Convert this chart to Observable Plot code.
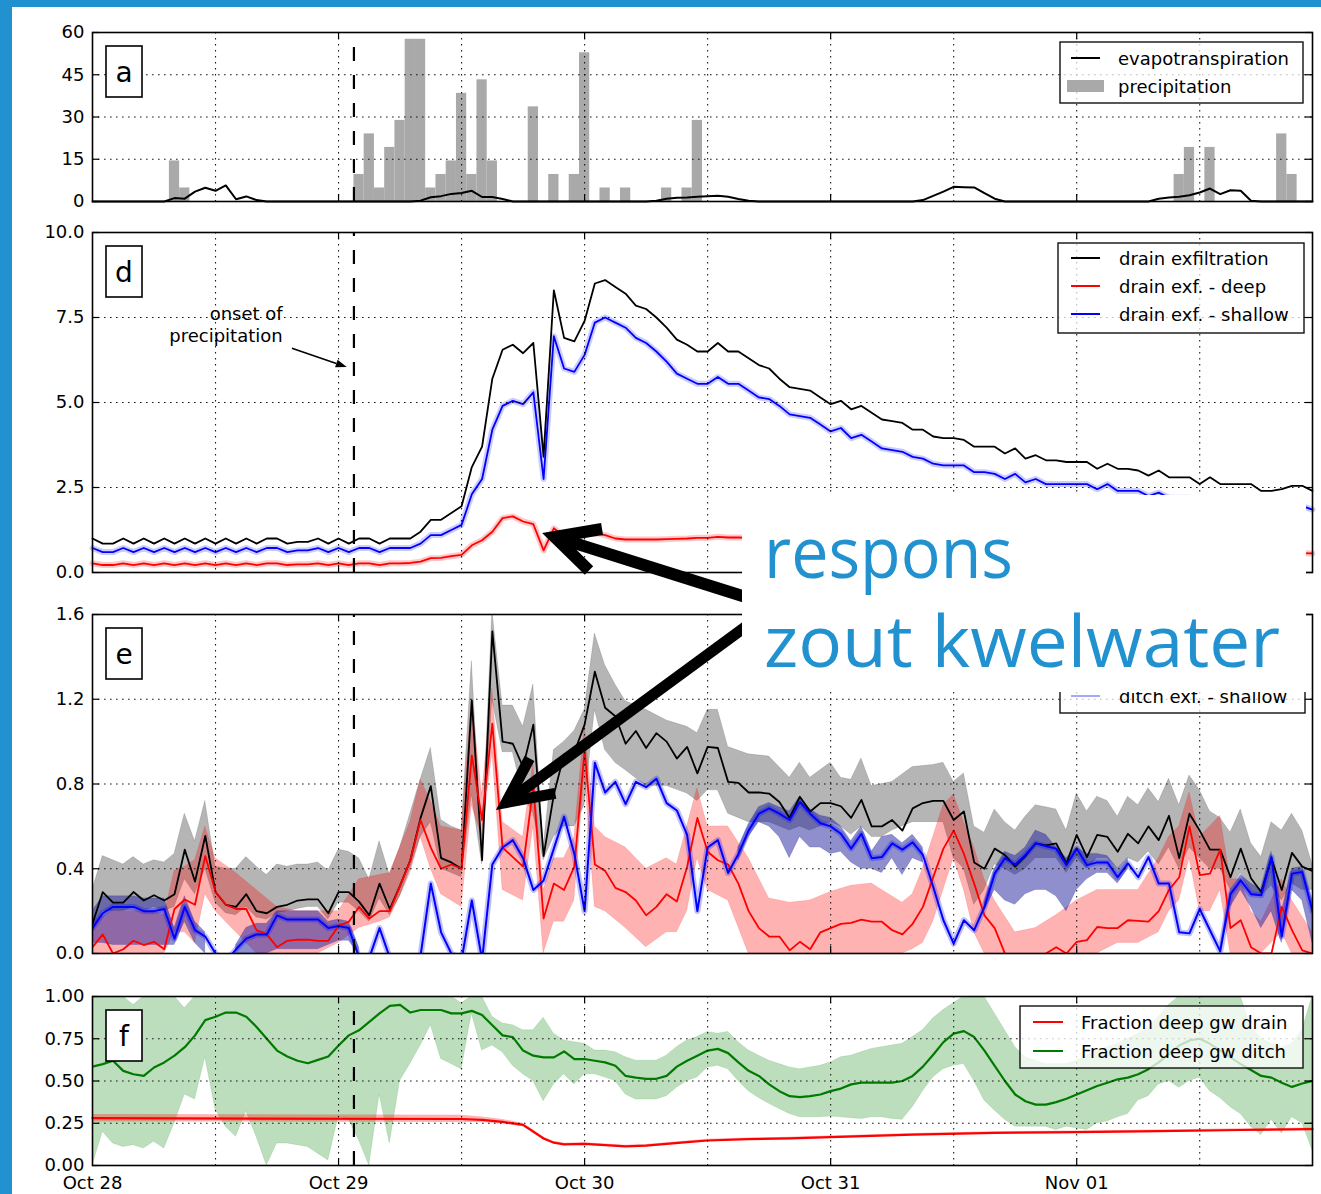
<!DOCTYPE html>
<html><head><meta charset="utf-8">
<script src="https://cdn.jsdelivr.net/npm/d3@7"></script>
<script src="https://cdn.jsdelivr.net/npm/@observablehq/plot@0.6"></script>
<style>
html,body{margin:0;padding:0;background:#fff;overflow:hidden;}
#wrap{position:relative;width:1321px;height:1194px;background:#fff;}
#wrap > svg{position:absolute;left:0;}
</style></head><body><div id="wrap"></div>
<script>
// ---------- x axis (hours since Oct 28 00:00) ----------
const dayHours = [0, 24, 48, 72, 96];
const dayLabels = ["Oct 28", "Oct 29", "Oct 30", "Oct 31", "Nov 01"];
const gridHours = [12, 24, 36, 48, 60, 72, 84, 96, 108];
const onsetHour = 25.5;

// ---------- panel a ----------
const aTicks = [0, 15, 30, 45, 60];
const precipHours = [8,9,26,27,28,29,30,31,32,33,34,35,36,37,38,39,43,45,47,48,50,52,56,58,59,106,107,109,116,117];
const precipVals  = [14.4,4.8,9.6,24,4.8,19.2,28.8,57.6,57.6,4.8,9.6,14.4,38.4,9.6,43.2,14.4,33.6,9.6,9.6,52.8,4.8,4.8,4.8,4.8,28.8,9.6,19.2,19.2,24,9.6];
const etVals = [
0,0,0,0,0,0,0,0,1.2,1.0,
3.5,4.9,3.8,5.7,0.8,1.8,0.5,0,0,0,
0,0,0,0,0,0,0,0,0,0,
0,0,0.3,1.5,1.9,2.7,3.0,3.8,1.6,1.6,
0.9,0,0,0,0,0,0,0,0,0,
0,0,0,0,0,0.3,1.0,1.3,1.4,1.7,
1.9,2.0,1.7,0.9,0.3,0,0,0,0,0,
0,0,0,0,0,0,0,0,0,0,
0,0.5,2.0,3.5,5.2,5.1,5.0,3.0,1.0,0,
0,0,0,0,0,0,0,0,0,0,
0,0,0,0,1.0,1.4,1.7,2.2,3.2,4.6,
2.6,4.0,3.8,0.3,0,0,0,0,0,0];

// ---------- panel d ----------
const dTicks = [0, 2.5, 5, 7.5, 10];
const dBlack = [
1.0,0.85,0.85,1.0,0.85,1.0,0.85,1.0,0.85,1.0,0.85,1.0,0.85,1.0,0.85,1.0,0.85,1.0,1.0,0.85,0.9,0.9,1.0,0.85,1.0,0.85,1.0,1.0,0.85,1.0,1.0,1.0,
1.2,1.55,1.55,1.75,1.95,3.1,3.7,5.7,6.55,6.7,6.45,6.75,3.4,8.3,6.9,6.8,7.4,8.5,8.6,8.4,8.2,7.85,7.75,7.5,7.2,6.85,6.7,6.5,
6.5,6.75,6.5,6.5,6.3,6.1,6.0,5.7,5.45,5.4,5.35,5.15,4.95,5.05,4.8,4.9,4.7,4.5,4.45,4.4,
4.2,4.2,4.0,3.95,3.95,3.9,3.7,3.7,3.7,3.5,3.65,3.35,3.45,3.3,3.3,3.25,3.25,3.25,3.05,3.2,
3.05,3.05,3.0,2.85,3.0,2.8,2.8,2.8,2.6,2.8,2.6,2.6,2.6,2.6,2.4,2.4,2.45,2.55,2.55,2.4];
const dBlue = [
0.72,0.6,0.6,0.72,0.6,0.72,0.6,0.72,0.6,0.72,0.6,0.72,0.6,0.72,0.6,0.72,0.6,0.72,0.72,0.6,0.65,0.65,0.72,0.6,0.72,0.6,0.72,0.72,0.6,0.72,0.72,0.72,
0.85,1.1,1.1,1.25,1.4,2.3,2.75,4.2,4.9,5.05,4.95,5.3,2.75,6.95,6.0,5.9,6.4,7.35,7.5,7.35,7.2,6.9,6.75,6.5,6.2,5.85,5.7,5.55,
5.55,5.75,5.55,5.55,5.35,5.15,5.1,4.9,4.65,4.6,4.55,4.35,4.15,4.25,3.95,4.05,3.85,3.65,3.6,3.55,
3.4,3.35,3.2,3.15,3.15,3.15,2.95,2.95,2.9,2.75,2.9,2.65,2.75,2.6,2.6,2.6,2.6,2.6,2.45,2.6,
2.4,2.4,2.4,2.25,2.35,2.2,2.2,2.2,2.05,2.2,2.05,2.05,2.05,2.05,1.95,1.95,2.0,2.05,1.95,1.85];
const dRedHours = [...d3.range(67), 70, 80, 90, 100, 110, 116, 119];
const dRed = [
0.27,0.22,0.22,0.27,0.22,0.27,0.22,0.27,0.22,0.27,0.22,0.27,0.22,0.27,0.22,0.27,0.22,0.27,0.27,0.22,0.24,0.24,0.27,0.22,0.27,0.22,0.27,0.27,0.22,0.27,0.27,0.28,
0.32,0.42,0.43,0.48,0.52,0.8,0.95,1.2,1.6,1.65,1.5,1.42,0.65,1.3,1.05,1.0,1.12,1.15,1.1,1.0,0.97,0.97,0.97,0.97,0.98,0.99,1.0,1.02,
1.02,1.05,1.03,1.03,1.02,1.01,1.0,
0.96,0.86,0.77,0.69,0.62,0.58,0.56];

// ---------- panel e ----------
const eTicks = [0, 0.4, 0.8, 1.2, 1.6];
const eBlack = [
0.14,0.29,0.24,0.24,0.29,0.25,0.275,0.25,0.28,0.49,0.34,0.555,0.29,0.23,0.22,0.28,0.2,0.19,0.22,0.23,0.25,0.255,0.255,0.19,0.29,0.29,0.245,0.18,0.33,0.21,0.32,0.44,0.64,0.79,0.45,0.43,0.4,
1.195,0.44,1.52,1.0,0.99,0.88,1.08,0.46,0.75,0.94,0.95,1.08,1.33,1.16,1.12,0.99,1.05,0.97,1.04,1.0,0.92,0.975,0.85,0.975,0.97,0.81,0.805,0.76,0.76,0.755,0.715,0.64,0.74,0.67,0.71,0.71,0.695,0.64,0.725,0.6,
0.6,0.63,0.58,0.685,0.71,0.72,0.72,0.63,0.67,0.43,0.4,0.495,0.465,0.41,0.46,0.52,0.51,0.52,0.425,0.56,0.455,0.56,0.55,0.48,0.565,0.52,0.6,0.535,0.65,0.45,0.66,0.58,0.49,0.49,0.36,0.495,0.355,0.29,0.45,0.3,0.475,0.41,0.39];
const eRed = [
0.03,0.09,0.0,0.02,0.06,0.04,0.055,0.02,0.21,0.255,0.23,0.46,0.29,0.23,0.21,0.21,0.11,0.09,0.03,0.06,0.065,0.065,0.06,0.06,0.13,0.15,0.22,0.165,0.2,0.2,0.32,0.44,0.63,0.5,0.4,0.42,0.4,
0.935,0.63,1.085,0.5,0.455,0.41,0.79,0.165,0.33,0.3,0.41,0.96,0.42,0.39,0.31,0.29,0.25,0.18,0.22,0.28,0.245,0.41,0.64,0.48,0.44,0.42,0.33,0.2,0.12,0.08,0.08,0.015,0.055,0.02,0.1,0.12,0.14,0.145,0.16,0.15,
0.15,0.11,0.09,0.14,0.22,0.36,0.495,0.58,0.47,0.33,0.18,0.12,0.0,-0.03,-0.03,-0.02,0.0,0.03,0.0,0.055,0.063,0.125,0.12,0.12,0.157,0.154,0.15,0.2,0.3,0.36,0.6,0.37,0.377,0.49,0.12,0.157,0.03,0.0,0.0,0.22,0.11,0.015,0.0];
const eBlue = [
0.12,0.19,0.22,0.22,0.22,0.2,0.2,0.21,0.07,0.22,0.11,0.08,0.0,-0.04,0.02,0.07,0.09,0.09,0.18,0.16,0.16,0.16,0.16,0.12,0.13,0.12,-0.02,-0.02,0.12,-0.02,-0.05,-0.05,-0.01,0.33,0.1,0.0,-0.03,
0.25,-0.03,0.42,0.5,0.535,0.45,0.3,0.345,0.495,0.645,0.47,0.2,0.9,0.76,0.81,0.705,0.81,0.785,0.825,0.71,0.675,0.56,0.2,0.5,0.535,0.38,0.47,0.58,0.66,0.685,0.66,0.63,0.715,0.66,0.615,0.6,0.565,0.495,0.565,0.45,
0.455,0.52,0.49,0.525,0.465,0.315,0.157,0.047,0.157,0.11,0.22,0.377,0.45,0.42,0.465,0.52,0.506,0.495,0.417,0.495,0.417,0.43,0.43,0.36,0.425,0.36,0.455,0.33,0.33,0.1,0.095,0.21,0.11,0.01,0.28,0.345,0.28,0.275,0.455,0.08,0.377,0.385,0.2];
const eGrayH = [0,1,3,4,5,6,7,8,9,10,11,12,13,14,15,16,17,18,19,20,21,22,23,24,25,26,27,28,29,30,31,32,33,34,35,36,37,38,39,40,41,42,43,44,45,46,47,48,49,50,51,52,54,56,58,59,60,61,62,64,66,68,69,70,72,73,74,75,76,77,78,80,82,83,84,85,86,87,88,89,90,91,92,93,94,95,96,97,98,99,100,101,102,103,104,105,106,107,108,109,110,111,112,113,114,115,116,117,118,119];
const eGrayLo = [0.1,0.2,
0.2,0.22,0.2,0.22,0.2,0.22,0.35,0.28,0.4,0.24,
0.19,0.18,0.22,0.17,0.16,0.19,0.2,0.21,0.22,0.22,
0.16,0.24,0.24,0.2,0.15,0.26,0.18,0.27,0.4,0.55,
0.62,0.4,0.38,0.36,0.75,0.42,1.2,0.95,0.95,0.75,
0.66,0.44,0.55,0.6,0.6,0.7,1.15,0.96,0.9,0.865,
0.79,0.79,0.755,0.72,0.77,0.77,0.66,
0.62,0.62,0.58,0.6,0.58,0.62,0.6,0.56,0.6,0.55,0.55,0.58,
0.62,0.62,0.62,0.45,0.4,0.23,0.3,0.42,0.4,0.37,
0.4,0.45,0.45,0.45,0.38,0.45,0.4,0.45,0.45,0.4,
0.45,0.43,0.48,0.42,0.5,0.4,0.5,0.45,0.4,0.4,
0.3,0.38,0.28,0.27,0.32,0.25,0.33,0.3,0.3];
const eGrayHi = [0.3,0.46,
0.42,0.455,0.42,0.44,0.43,0.47,0.66,0.53,0.72,0.41,
0.40,0.40,0.455,0.41,0.37,0.42,0.41,0.42,0.42,0.43,
0.39,0.49,0.48,0.45,0.35,0.53,0.37,0.5,0.66,0.82,
0.97,0.63,0.6,0.58,1.38,0.5,1.62,1.17,1.17,1.07,
1.27,0.5,0.96,1.0,1.05,1.15,1.51,1.36,1.27,1.19,
1.15,1.1,1.07,1.04,1.15,1.15,0.975,
0.94,0.93,0.83,0.9,0.83,0.9,0.83,0.82,0.92,0.79,0.8,0.81,
0.88,0.89,0.9,0.81,0.85,0.6,0.57,0.68,0.62,0.58,
0.645,0.7,0.69,0.68,0.58,0.755,0.67,0.74,0.72,0.645,
0.74,0.7,0.78,0.715,0.825,0.7,0.84,0.77,0.67,0.64,
0.57,0.68,0.52,0.455,0.62,0.58,0.66,0.58,0.42];
const eRedH = [0,2,4,6,7,8,9,10,11,12,14,16,18,20,22,24,26,28,29,30,31,32,33,34,36,37,38,39,40,42,43,44,45,46,47,48,49,50,52,54,56,57,58,59,60,62,64,66,68,70,72,74,76,77,79,80,81,82,83,84,85,86,87,88,90,92,94,96,98,100,102,104,105,106,107,108,109,110,111,112,113,114,116,117,119];
const eRedLo = [0,0,0,0,0,0.1,0.1,0.05,0.28,0.2, 0.1,0,0,0,0,0.05,0.12,0.15,0.17,0.27, 0.38,0.55,0.4,0.28,0.22,0.7,0.55,0.95,0.3,0.25, 0.6,0,0.15,0.15,0.25,0.85,0.22,0.2,0.12,0.03, 0.1,0.1,0.2,0.45,0.3,0.25,0,0,0,0, 0,0,0,0,0,0.02,0.05,0.15,0.3,0.45, 0.3,0.1,0,0,0,0,0,0,0,0.05, 0.05,0.1,0.2,0.25,0.45,0.2,0.2,0.3,0,0, 0,0,0.1,0,0];
const eRedHi = [0.15,0.2,0.2,0.2,0.18,0.39,0.41,0.44,0.6,0.45, 0.38,0.3,0.22,0.2,0.2,0.2,0.35,0.37,0.38,0.5, 0.62,0.82,0.72,0.6,0.58,1.2,0.75,1.25,0.62,0.55, 0.9,0.3,0.45,0.45,0.55,1.08,0.6,0.55,0.5,0.4, 0.45,0.42,0.6,0.78,0.6,0.6,0.45,0.26,0.24,0.25, 0.29,0.32,0.33,0.3,0.24,0.28,0.4,0.55,0.7,0.75, 0.62,0.5,0.35,0.25,0.1,0.12,0.18,0.25,0.3,0.3, 0.3,0.45,0.55,0.6,0.76,0.55,0.6,0.65,0.35,0.35, 0.2,0.15,0.35,0.25,0.1];
// blue band: wide segments (start hour, then hourly lo / hi)
const eBlueBandStart = [0, 14, 63, 87, 110];
const eBlueBandLo = [
[0.05,0.05,0.04,0.04,0.04,0.04,0.04,0.04,0.04,0.15,0.05,0.0],
[0,0,0,0,0.02,0.02,0.02,0.02,0.02,0.04,0.06,0.06,0],
[0.44,0.55,0.62,0.6,0.55,0.45,0.55,0.5,0.5,0.47,0.48,0.43,0.4,0.4,0.38,0.45,0.37,0.45,0.43],
[0.2,0.3,0.25,0.23,0.28,0.3,0.3,0.27,0.2,0.3,0.35,0.38,0.38,0.33,0.4],
[0,0.22,0.3,0.22,0.12,0.2,0.05,0.3,0.25,0.05]];
const eBlueBandHi = [
[0.2,0.27,0.27,0.27,0.27,0.26,0.26,0.26,0.12,0.27,0.15,0.1],
[0.04,0.12,0.14,0.14,0.2,0.2,0.2,0.2,0.2,0.15,0.16,0.15,0.03],
[0.5,0.61,0.69,0.71,0.69,0.67,0.74,0.68,0.65,0.64,0.6,0.53,0.6,0.48,0.55,0.56,0.52,0.56,0.5],
[0.24,0.4,0.48,0.46,0.5,0.58,0.56,0.5,0.45,0.5,0.47,0.47,0.46,0.4,0.45],
[0.03,0.3,0.37,0.33,0.3,0.48,0.2,0.4,0.41,0.25]];

// ---------- panel f ----------
const fTicks = [0, 0.25, 0.5, 0.75, 1];
const fGreen = [
0.585,0.6,0.62,0.56,0.54,0.53,0.58,0.61,0.65,0.7, 0.77,0.86,0.88,0.905,0.905,0.88,0.82,0.75,0.68,0.645,
0.62,0.605,0.625,0.645,0.71,0.77,0.8,0.85,0.9,0.945, 0.95,0.905,0.92,0.92,0.92,0.9,0.9,0.915,0.89,0.83,
0.77,0.76,0.68,0.65,0.64,0.64,0.675,0.63,0.63,0.62, 0.61,0.59,0.53,0.52,0.513,0.513,0.53,0.585,0.62,0.65,
0.68,0.69,0.665,0.61,0.56,0.53,0.48,0.44,0.41,0.405, 0.41,0.42,0.44,0.455,0.48,0.49,0.49,0.49,0.49,0.5,
0.53,0.585,0.655,0.73,0.78,0.795,0.76,0.68,0.59,0.5, 0.42,0.38,0.36,0.36,0.375,0.395,0.42,0.445,0.47,0.49,
0.51,0.52,0.54,0.57,0.61,0.66,0.71,0.74,0.75,0.72, 0.68,0.64,0.6,0.565,0.53,0.52,0.49,0.465,0.485,0.5];
const fGreenLo = [
0.0,0.2,0.13,0.11,0.12,0.1,0.14,0.1,0.25,0.42, 0.39,0.64,0.33,0.23,0.17,0.32,0.17,0.0,0.13,0.13,
0.12,0.11,0.07,0.03,0.29,0.27,0.15,0.0,0.42,0.13, 0.5,0.6,0.71,0.83,0.63,0.6,0.57,0.9,0.68,0.71,
0.67,0.59,0.54,0.5,0.38,0.48,0.54,0.48,0.54,0.54, 0.52,0.5,0.42,0.39,0.39,0.39,0.41,0.46,0.5,0.52,
0.58,0.59,0.57,0.5,0.44,0.4,0.365,0.335,0.305,0.285, 0.285,0.285,0.29,0.285,0.28,0.275,0.285,0.285,0.275,0.27,
0.345,0.44,0.52,0.57,0.59,0.6,0.5,0.385,0.325,0.27, 0.23,0.23,0.23,0.23,0.21,0.23,0.22,0.21,0.25,0.26,
0.285,0.305,0.385,0.41,0.48,0.5,0.46,0.5,0.52,0.44, 0.4,0.345,0.305,0.23,0.18,0.27,0.19,0.285,0.25,0.09];
const fGreenHi = [
1,1,1,1,0.95,1,1,1,1,0.93, 1,1,1,1,1,1,1,1,1,1,
1,1,1,1,1,1,1,1,1,1, 1,1,1,1,1,1,0.96,1,1,0.88,
0.84,0.83,0.8,0.8,0.875,0.78,0.74,0.73,0.72,0.68, 0.68,0.67,0.64,0.62,0.62,0.62,0.65,0.7,0.74,0.76,
0.79,0.78,0.79,0.73,0.68,0.65,0.62,0.6,0.58,0.57, 0.58,0.59,0.61,0.64,0.65,0.67,0.69,0.7,0.71,0.72,
0.76,0.8,0.87,0.92,0.96,1,1,1,0.9,0.8, 0.7,0.64,0.62,0.6,0.6,0.6,0.62,0.65,0.68,0.7,
0.72,0.75,0.78,0.82,0.88,0.95,1,1,1,1, 1,1,1,0.82,0.75,0.72,0.7,0.72,0.8,1];
const fRedH = [0,36,38,40,42,43,44,45,46,48,50,52,54,56,58,60,64,68,72,80,88,96,104,112,119];
const fRed   = [0.28,0.275,0.27,0.258,0.24,0.2,0.16,0.135,0.125,0.128,0.12,0.113,0.118,0.128,0.138,0.148,0.156,0.16,0.168,0.183,0.193,0.197,0.203,0.21,0.215];
const fRedLo = [0.258,0.255,0.255,0.245,0.23,0.19,0.152,0.128,0.118,0.121,0.113,0.106,0.111,0.121,0.131,0.141,0.149,0.153,0.161,0.176,0.186,0.19,0.196,0.203,0.208];
const fRedHi = [0.302,0.297,0.287,0.272,0.25,0.21,0.168,0.142,0.132,0.135,0.127,0.12,0.125,0.135,0.145,0.155,0.163,0.167,0.175,0.19,0.2,0.204,0.21,0.217,0.222];

// ---------- helpers ----------
const W = 1321, ML = 92, MR = 9, XMAX = 119;
const hourly = vals => vals.map((v, h) => ({h, v}));
const rows = (hours, vals) => hours.map((h, i) => ({h, v: vals[i]}));
const band = (hours, lo, hi) => hours.map((h, i) => ({h, lo: lo[i], hi: hi[i]}));
const dotted = {stroke: "black", strokeWidth: 1.1, strokeDasharray: "1.6,4.4", strokeOpacity: 0.9};
const dashed = {stroke: "black", strokeWidth: 2.2, strokeDasharray: "14,14"};
const font = {fontFamily: "DejaVu Sans", fontSize: "18px", color: "black", background: "white"};

function decor(yTicks, yDom, areaH) {
  const kx = XMAX * 7 / (W - ML - MR), ky = (yDom[1] - yDom[0]) * 7 / areaH;
  const t = {stroke: "black", strokeWidth: 1.2};
  return [
    Plot.ruleX(gridHours, {x: d => d, ...dotted}),
    Plot.ruleY(yTicks.slice(1, -1), {y: d => d, ...dotted}),
    Plot.ruleY(yTicks, {y: d => d, x1: 0, x2: kx, ...t}),
    Plot.ruleY(yTicks, {y: d => d, x1: XMAX - kx, x2: XMAX, ...t}),
    Plot.ruleX(dayHours.slice(1), {x: d => d, y1: yDom[0], y2: yDom[0] + ky, ...t}),
    Plot.ruleX(dayHours.slice(1), {x: d => d, y1: yDom[1] - ky, y2: yDom[1], ...t}),
    Plot.ruleX([onsetHour], {x: d => d, y1: yDom[0], y2: yDom[1], ...dashed}),
    Plot.frame({stroke: "black", strokeWidth: 1.6}),
    Plot.axisY({ticks: yTicks, tickSize: 0, tickPadding: 8, tickFormat: yTicks.fmt, label: null})
  ];
}
aTicks.fmt = d => String(d);
dTicks.fmt = d3.format(".1f");
eTicks.fmt = d3.format(".1f");
fTicks.fmt = d3.format(".2f");

const wrap = document.getElementById("wrap");
function place(svg, top) { svg.style.top = top + "px"; wrap.appendChild(svg); return svg; }

// ---------- panel a ----------
const topA = 0;
const plotA = Plot.plot({
  width: W, height: 215, marginLeft: ML, marginRight: MR, marginTop: 32, marginBottom: 14, style: font,
  x: {domain: [0, XMAX], axis: null}, y: {domain: [0, 60], axis: null},
  marks: [
    Plot.rectY(rows(precipHours, precipVals), {x1: d => d.h - 0.5, x2: d => d.h + 0.5, y: "v", fill: "#a9a9a9"}),
    Plot.line(hourly(etVals), {x: "h", y: "v", stroke: "black", strokeWidth: 2}),
    ...decor(aTicks, [0, 60], 169)
  ]
});
place(plotA, topA);

// ---------- panel d ----------
const topD = 215;
const dRedRows = rows(dRedHours, dRed);
const plotD = Plot.plot({
  width: W, height: 377, marginLeft: ML, marginRight: MR, marginTop: 17, marginBottom: 20, style: font,
  x: {domain: [0, XMAX], axis: null}, y: {domain: [0, 10], axis: null},
  marks: [
    Plot.line(dRedRows, {x: "h", y: "v", stroke: "red", strokeOpacity: 0.22, strokeWidth: 6}),
    Plot.line(hourly(dBlue), {x: "h", y: "v", stroke: "blue", strokeOpacity: 0.2, strokeWidth: 6}),
    Plot.line(hourly(dBlack), {x: "h", y: "v", stroke: "black", strokeWidth: 1.8}),
    Plot.line(dRedRows, {x: "h", y: "v", stroke: "#ff0000", strokeWidth: 1.8}),
    Plot.line(hourly(dBlue), {x: "h", y: "v", stroke: "#0000ff", strokeWidth: 1.8}),
    ...decor(dTicks, [0, 10], 340)
  ]
});
place(plotD, topD);

// ---------- panel e ----------
const topE = 595;
const blueBandRows = eBlueBandStart.flatMap((s, k) =>
  eBlueBandLo[k].map((lo, i) => ({h: s + i, lo, hi: eBlueBandHi[k][i], seg: k})));
const plotE = Plot.plot({
  width: W, height: 378, marginLeft: ML, marginRight: MR, marginTop: 19, marginBottom: 20, style: font,
  x: {domain: [0, XMAX], axis: null}, y: {domain: [0, 1.6], axis: null},
  marks: [
    Plot.areaY(band(eGrayH, eGrayLo, eGrayHi), {x: "h", y1: "lo", y2: "hi", fill: "black", fillOpacity: 0.29, stroke: "black", strokeOpacity: 0.12, clip: true}),
    Plot.areaY(band(eRedH, eRedLo, eRedHi), {x: "h", y1: "lo", y2: "hi", fill: "#ff0000", fillOpacity: 0.3, stroke: "#ff0000", strokeOpacity: 0.12, clip: true}),
    Plot.areaY(blueBandRows, {x: "h", y1: "lo", y2: "hi", z: "seg", fill: "#20209c", fillOpacity: 0.5, stroke: "#20209c", strokeOpacity: 0.2, clip: true}),
    Plot.line(hourly(eBlue), {x: "h", y: "v", stroke: "blue", strokeOpacity: 0.25, strokeWidth: 6, clip: true}),
    Plot.line(hourly(eBlack), {x: "h", y: "v", stroke: "black", strokeWidth: 1.8, clip: true}),
    Plot.line(hourly(eRed), {x: "h", y: "v", stroke: "#ff0000", strokeWidth: 1.8, clip: true}),
    Plot.line(hourly(eBlue), {x: "h", y: "v", stroke: "#0000ff", strokeWidth: 2, clip: true}),
    ...decor(eTicks, [0, 1.6], 339)
  ]
});
place(plotE, topE);

// ---------- panel f ----------
const topF = 980;
const plotF = Plot.plot({
  width: W, height: 214, marginLeft: ML, marginRight: MR, marginTop: 16, marginBottom: 29, style: font,
  x: {domain: [0, XMAX]}, y: {domain: [0, 1], axis: null},
  marks: [
    Plot.areaY(band(d3.range(120), fGreenLo, fGreenHi), {x: "h", y1: "lo", y2: "hi", fill: "#008000", fillOpacity: 0.26, stroke: "#008000", strokeOpacity: 0.12, clip: true}),
    Plot.line(hourly(fGreen), {x: "h", y: "v", stroke: "#007a00", strokeWidth: 2.2, clip: true}),
    Plot.areaY(band(fRedH, fRedLo, fRedHi), {x: "h", y1: "lo", y2: "hi", fill: "#ff0000", fillOpacity: 0.3}),
    Plot.line(rows(fRedH, fRed), {x: "h", y: "v", stroke: "#ff0000", strokeWidth: 2.2}),
    ...decor(fTicks, [0, 1], 169),
    Plot.axisX({ticks: dayHours, tickFormat: d => dayLabels[dayHours.indexOf(d)], tickSize: 0, tickPadding: 11, label: null})
  ]
});
place(plotF, topF);

// ---------- overlay: borders, panel labels, legends, annotations ----------
const X = h => plotA.scale("x").apply(h);
const yA = v => plotA.scale("y").apply(v) + topA;
const yD = v => plotD.scale("y").apply(v) + topD;
const yE = v => plotE.scale("y").apply(v) + topE;
const yF = v => plotF.scale("y").apply(v) + topF;

const ov = d3.create("svg").attr("width", W).attr("height", 1194)
  .style("top", "0px").style("font-family", "DejaVu Sans").style("font-size", "18px");
const g = ov.append("g");

// panel letters
[["a", yA(60)], ["d", yD(10)], ["e", yE(1.6)], ["f", yF(1)]].forEach(([t, top]) => {
  const bx = X(0) + 14, by = top + 14;
  g.append("rect").attr("x", bx).attr("y", by).attr("width", 36).attr("height", 51)
    .attr("fill", "white").attr("stroke", "black").attr("stroke-width", 1.6);
  g.append("text").attr("x", bx + 18).attr("y", by + 26).attr("text-anchor", "middle")
    .attr("dominant-baseline", "central").attr("font-size", 28).text(t);
});

// legends
function legend(x, y, w, h, entries, op) {
  g.append("rect").attr("x", x).attr("y", y).attr("width", w).attr("height", h)
    .attr("fill", "white").attr("fill-opacity", op).attr("stroke", "#111").attr("stroke-width", 1.4);
  entries.forEach(e => {
    if (e.patch) g.append("rect").attr("x", e.lx1).attr("y", e.y - 6).attr("width", e.lx2 - e.lx1).attr("height", 12).attr("fill", e.color);
    else g.append("line").attr("x1", e.lx1).attr("x2", e.lx2).attr("y1", e.y).attr("y2", e.y)
      .attr("stroke", e.color).attr("stroke-width", 2).attr("stroke-opacity", e.op ?? 1);
    if (e.label) g.append("text").attr("x", e.tx).attr("y", e.y).attr("dominant-baseline", "central").text(e.label);
  });
}
const R = X(XMAX);
const aT = yA(60), dT = yD(10), eT = yE(1.6), fT = yF(1);
legend(R - 252, aT + 10, 243, 61, [
  {lx1: R - 241, lx2: R - 212, y: aT + 26, color: "black", tx: R - 194, label: "evapotranspiration"},
  {lx1: R - 245, lx2: R - 208, y: aT + 54, color: "#a9a9a9", patch: true, tx: R - 194, label: "precipitation"}
], 0.7);
legend(R - 254, dT + 11, 246, 90, [
  {lx1: R - 241, lx2: R - 212, y: dT + 26, color: "black", tx: R - 193, label: "drain exfiltration"},
  {lx1: R - 241, lx2: R - 212, y: dT + 54, color: "#ff0000", tx: R - 193, label: "drain exf. - deep"},
  {lx1: R - 241, lx2: R - 212, y: dT + 82, color: "#0000ff", tx: R - 193, label: "drain exf. - shallow"}
], 0.7);
// panel e legend: its upper entries are hidden behind the annotation box
legend(R - 252, eT + 9, 245, 90, [
  {lx1: R - 241, lx2: R - 212, y: eT + 82, color: "#0000ff", op: 0.35, tx: R - 193, label: "ditch exf. - shallow"}
], 0.7);
legend(R - 292, fT + 10, 283, 62, [
  {lx1: R - 279, lx2: R - 249, y: fT + 26, color: "#ff0000", tx: R - 231, label: "Fraction deep gw drain"},
  {lx1: R - 279, lx2: R - 249, y: fT + 55, color: "#007a00", tx: R - 231, label: "Fraction deep gw ditch"}
], 0.75);

// onset of precipitation annotation
const onX = X(18.6);
g.append("text").attr("x", onX).attr("y", yD(7.59)).attr("text-anchor", "end").attr("dominant-baseline", "central").text("onset of");
g.append("text").attr("x", onX).attr("y", yD(6.95)).attr("text-anchor", "end").attr("dominant-baseline", "central").text("precipitation");
{
  const tail = [X(19.5), yD(6.58)], tip = [X(24.85), yD(6.03)];
  const a = Math.atan2(tip[1] - tail[1], tip[0] - tail[0]);
  const L = 11, Wd = 4;
  const b = [tip[0] - L * Math.cos(a), tip[1] - L * Math.sin(a)];
  g.append("line").attr("x1", tail[0]).attr("y1", tail[1]).attr("x2", b[0]).attr("y2", b[1]).attr("stroke", "black").attr("stroke-width", 1.6);
  g.append("path").attr("d", `M${tip}L${b[0] + Wd * Math.sin(a)},${b[1] - Wd * Math.cos(a)}L${b[0] - Wd * Math.sin(a)},${b[1] + Wd * Math.cos(a)}Z`).attr("fill", "black");
}

// thick arrows
function thickArrow(tail, tip, len, ang, w) {
  const a = Math.atan2(tail[1] - tip[1], tail[0] - tip[0]);
  const back = w / (2 * Math.sin(ang));
  const v = [tip[0] + back * Math.cos(a), tip[1] + back * Math.sin(a)];
  const p1 = [v[0] + len * Math.cos(a + ang), v[1] + len * Math.sin(a + ang)];
  const p2 = [v[0] + len * Math.cos(a - ang), v[1] + len * Math.sin(a - ang)];
  g.append("path").attr("d", `M${tail}L${v}`).attr("stroke", "black").attr("stroke-width", w).attr("fill", "none");
  g.append("path").attr("d", `M${p1}L${v}L${p2}`).attr("stroke", "black").attr("stroke-width", w)
    .attr("fill", "none").attr("stroke-linejoin", "miter").attr("stroke-miterlimit", 10);
}
thickArrow([752, 599], [X(43.9), yD(1.15)], 48, 0.47, 12);
thickArrow([752, 622], [X(39.4), yE(0.675)], 50, 0.45, 11);

// white annotation box with text
g.append("rect").attr("x", 742).attr("y", 495).attr("width", 564).attr("height", 197).attr("fill", "white");
g.append("text").attr("x", 764).attr("y", 578).attr("font-family", "Open Sans").attr("font-size", 72)
  .attr("fill", "#2192cf").attr("textLength", 249).attr("lengthAdjust", "spacingAndGlyphs").text("respons");
g.append("text").attr("x", 764).attr("y", 667).attr("font-family", "Open Sans").attr("font-size", 72)
  .attr("fill", "#2192cf").attr("textLength", 516).attr("lengthAdjust", "spacingAndGlyphs").text("zout kwelwater");

// blue slide border
g.append("rect").attr("x", 0).attr("y", 0).attr("width", W).attr("height", 7).attr("fill", "#2192cf");
g.append("rect").attr("x", 0).attr("y", 0).attr("width", 12).attr("height", 1194).attr("fill", "#2192cf");

wrap.appendChild(ov.node());
</script></body></html>
